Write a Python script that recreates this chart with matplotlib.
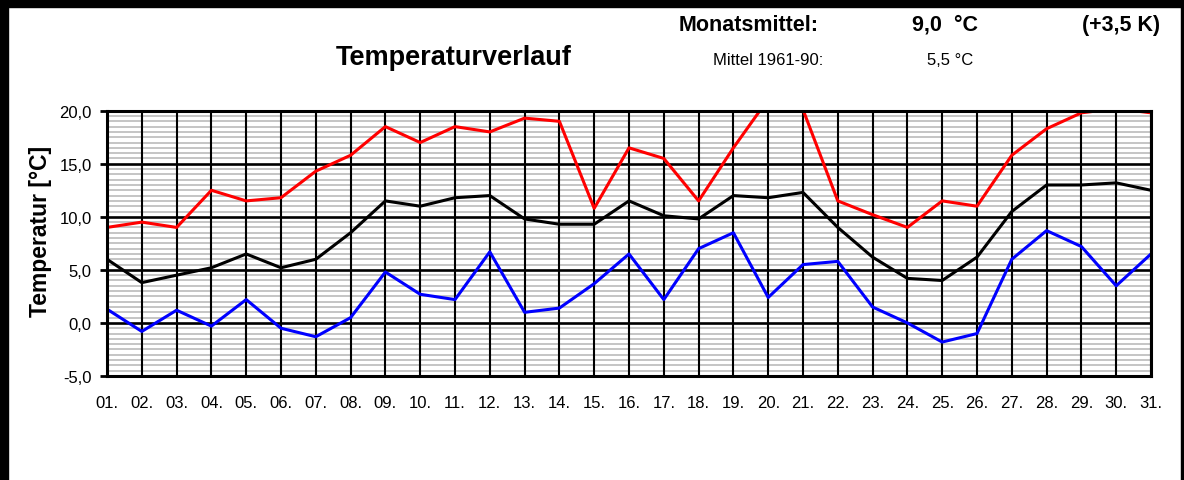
import matplotlib
matplotlib.use('Agg')
import matplotlib.pyplot as plt
from matplotlib.ticker import MultipleLocator
from matplotlib.patches import Rectangle

# daily values for the month
days = list(range(1, 32))
day_labels = ['01.', '02.', '03.', '04.', '05.', '06.', '07.', '08.', '09.', '10.',
              '11.', '12.', '13.', '14.', '15.', '16.', '17.', '18.', '19.', '20.',
              '21.', '22.', '23.', '24.', '25.', '26.', '27.', '28.', '29.', '30.', '31.']
t_max = [9.0, 9.5, 9.0, 12.5, 11.5, 11.8, 14.3, 15.8, 18.5, 17.0,
         18.5, 18.0, 19.3, 19.0, 10.8, 16.5, 15.5, 11.5, 16.5, 21.1,
         20.1, 11.5, 10.2, 9.0, 11.5, 11.0, 15.8, 18.3, 19.8, 20.2, 19.8]
t_mean = [6.0, 3.8, 4.5, 5.2, 6.5, 5.2, 6.0, 8.5, 11.5, 11.0,
          11.8, 12.0, 9.8, 9.3, 9.3, 11.5, 10.1, 9.8, 12.0, 11.8,
          12.3, 9.0, 6.2, 4.2, 4.0, 6.2, 10.5, 13.0, 13.0, 13.2, 12.5]
t_min = [1.3, -0.8, 1.2, -0.3, 2.2, -0.5, -1.3, 0.5, 4.8, 2.7,
         2.2, 6.7, 1.0, 1.4, 3.7, 6.5, 2.2, 7.0, 8.5, 2.4,
         5.5, 5.8, 1.5, 0.0, -1.8, -1.0, 6.0, 8.7, 7.2, 3.5, 6.5]
y_ticks = [-5, 0, 5, 10, 15, 20]
y_tick_labels = ['-5,0', '0,0', '5,0', '10,0', '15,0', '20,0']

W, H = 1184, 481
plt.rcParams['font.family'] = ['Liberation Sans', 'DejaVu Sans']

fig = plt.figure(figsize=(W / 100, H / 100), dpi=100)
ax = fig.add_axes([107 / W, 1 - 377 / H, (1151 - 107) / W, (377 - 111.7) / H])

ax.plot(days, t_max, color='#ff0000', lw=2.2, zorder=3)
ax.plot(days, t_mean, color='black', lw=2.2, zorder=3)
ax.plot(days, t_min, color='#0000ff', lw=2.2, zorder=3)

ax.set_xlim(1, 31)
ax.set_ylim(-5, 20)
ax.set_xticks(days)
ax.set_xticklabels(day_labels, fontsize=12)
ax.set_yticks(y_ticks)
ax.set_yticklabels(y_tick_labels, fontsize=12)
ax.yaxis.set_minor_locator(MultipleLocator(0.5))
ax.tick_params(axis='x', length=0, pad=14)
ax.tick_params(axis='y', which='major', length=5, width=2, pad=6)
ax.tick_params(axis='y', which='minor', length=0)

ax.set_axisbelow(True)
ax.grid(axis='y', which='minor', color='#c0c0c0', lw=1.3)
ax.grid(axis='y', which='major', color='black', lw=1.9)
ax.grid(axis='x', which='major', color='black', lw=1.5)
# vertical day lines over the grey lines
ax.xaxis.set_zorder(0.6)
for s in ax.spines.values():
    s.set_linewidth(2.2)
    s.set_zorder(4)

ax.set_ylabel('Temperatur [°C]', fontsize=16.5, fontweight='bold')
ax.yaxis.set_label_coords(-0.053, 0.547)


def ftext(x, y, s, **kw):
    fig.text(x / W, 1 - y / H, s, **kw)


ftext(454, 65, 'Temperaturverlauf', fontsize=19.5, fontweight='bold', ha='center', va='baseline')
ftext(749, 30.6, 'Monatsmittel:', fontsize=15.5, fontweight='bold', ha='center', va='baseline')
ftext(945, 30.6, '9,0  °C', fontsize=15.5, fontweight='bold', ha='center', va='baseline')
ftext(1121, 30.6, '(+3,5 K)', fontsize=15.5, fontweight='bold', ha='center', va='baseline')
ftext(768, 65, 'Mittel 1961-90:', fontsize=12, ha='center', va='baseline')
ftext(950, 65, '5,5 °C', fontsize=12, ha='center', va='baseline')

# black frame round the picture
fig.patches.append(Rectangle((0, 1 - 7.5 / H), 1, 7.5 / H, transform=fig.transFigure, color='black'))
fig.patches.append(Rectangle((0, 0), 7.5 / W, 1, transform=fig.transFigure, color='black'))
fig.patches.append(Rectangle((1181 / W, 0), 1.5 / W, 1, transform=fig.transFigure, color='black'))

fig.savefig('out.png', dpi=100)
